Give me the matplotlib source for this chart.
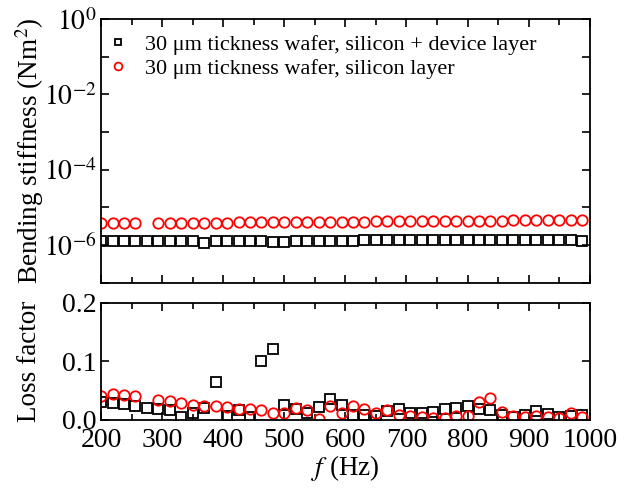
import numpy as np
import matplotlib
matplotlib.use('Agg')
import matplotlib.pyplot as plt

OUT = 'out.png'

freq = [200, 218.75, 237.5, 256.25, 275, 293.75, 312.5, 331.25, 350, 368.75,
        387.5, 406.25, 425, 443.75, 462.5, 481.25, 500, 518.75, 537.5, 556.25,
        575, 593.75, 612.5, 631.25, 650, 668.75, 687.5, 706.25, 725, 743.75,
        762.5, 781.25, 800, 818.75, 837.5, 856.25, 875, 893.75, 912.5, 931.25,
        950, 968.75, 987.5]

# bending stiffness (x 1e-6 Nm^2)
stiff_device = [1.30, 1.30, 1.30, 1.30, 1.30, 1.30, 1.30, 1.30, 1.30, 1.12,
                1.30, 1.30, 1.30, 1.30, 1.30, 1.18, 1.18, 1.30, 1.31, 1.31,
                1.32, 1.32, 1.32, 1.33, 1.33, 1.33, 1.34, 1.34, 1.35, 1.35,
                1.35, 1.35, 1.36, 1.36, 1.36, 1.36, 1.36, 1.36, 1.35, 1.35,
                1.35, 1.34, 1.25]
stiff_silicon = [3.85, 3.85, 3.85, 3.85, np.nan, 3.90, 3.90, 3.90, 3.90, 3.95,
                 3.95, 3.95, 4.00, 4.00, 4.00, 4.05, 4.05, 4.10, 4.10, 4.10,
                 4.15, 4.15, 4.20, 4.20, 4.25, 4.25, 4.30, 4.30, 4.35, 4.35,
                 4.40, 4.40, 4.45, 4.45, 4.50, 4.50, 4.55, 4.55, 4.60, 4.60,
                 4.65, 4.70, 4.70]

loss_device = [0.031, 0.029, 0.027, 0.023, 0.021, 0.018, 0.017, 0.005, 0.011, 0.020,
               0.064, 0.007, 0.016, 0.004, 0.100, 0.121, 0.025, 0.019, 0.011, 0.022,
               0.035, 0.026, 0.009, 0.008, 0.006, 0.015, 0.018, 0.012, 0.012, 0.013,
               0.019, 0.020, 0.024, 0.019, 0.017, 0.008, 0.005, 0.008, 0.015, 0.010,
               0.004, 0.006, 0.008]
loss_silicon = [0.041, 0.044, 0.043, 0.040, np.nan, 0.034, 0.032, 0.028, 0.026, 0.023,
                0.023, 0.022, 0.019, 0.019, 0.016, 0.011, 0.012, 0.021, 0.016, 0.002,
                0.024, 0.0125, 0.024, 0.019, 0.011, 0.016, 0.009, 0.006, 0.004, 0.003,
                0.003, 0.007, 0.007, 0.031, 0.038, 0.014, 0.007, 0.004, 0.006, 0.005,
                0.003, 0.011, 0.004]

label_device = '30 μm tickness wafer, silicon + device layer'
label_silicon = '30 μm tickness wafer, silicon layer'

plt.rcParams['font.family'] = 'Liberation Serif'
plt.rcParams['mathtext.fontset'] = 'stix'
plt.rcParams['axes.linewidth'] = 1.3

TICK_SIZE = 20
LABEL_SIZE = 19.5


def style_axis(ax):
  ax.tick_params(which='both', direction='in', top=True, right=True, width=1.2,
                 labelsize=TICK_SIZE, pad=3)
  ax.tick_params(which='major', length=6)
  ax.tick_params(which='minor', length=4)
  ax.tick_params(axis='x', pad=6)
  ax.set_xlim(200, 1000)
  ax.set_xticks(np.arange(200, 1001, 100))
  ax.set_xticks(np.arange(250, 1000, 100), minor=True)


def plot_stiffness(ax):
  ax.plot(freq, np.array(stiff_device) * 1e-6, ls='none', marker='s', ms=6.5,
          mfc='none', mec='black', mew=1.3, label=label_device)
  ax.plot(freq, np.array(stiff_silicon) * 1e-6, ls='none', marker='o', ms=7.5,
          mfc='none', mec='red', mew=1.3, label=label_silicon)
  ax.set_yscale('log')
  ax.set_ylim(1e-7, 1)
  ax.set_yticks([1e-6, 1e-4, 1e-2, 1])
  ax.set_yticklabels(['$10^{-6}$', '$10^{-4}$', '$10^{-2}$', '$10^{0}$'])
  ax.set_yticks([1e-7, 1e-5, 1e-3, 1e-1], minor=True)
  ax.yaxis.set_minor_formatter(matplotlib.ticker.NullFormatter())
  style_axis(ax)
  ax.tick_params(which='minor', axis='y', length=6)
  ax.tick_params(axis='x', labelbottom=False)
  ax.set_ylabel('Bending stiffness (Nm$^2$)', fontsize=LABEL_SIZE)
  ax.legend(loc='upper left', frameon=False, fontsize=16, markerscale=0.75,
            handlelength=1.2, handletextpad=0.6, borderaxespad=0.0,
            labelspacing=0.15, bbox_to_anchor=(-0.01, 0.975))


def plot_loss(ax):
  ax.plot(freq, loss_device, ls='none', marker='s', ms=6.5,
          mfc='none', mec='black', mew=1.3)
  ax.plot(freq, loss_silicon, ls='none', marker='o', ms=7.5,
          mfc='none', mec='red', mew=1.3)
  ax.set_ylim(0, 0.2)
  ax.set_yticks([0.0, 0.1, 0.2])
  ax.set_yticklabels(['0.0', '0.1', '0.2'])
  style_axis(ax)
  ax.set_ylabel('Loss factor', fontsize=LABEL_SIZE)
  ax.set_xlabel('$f$ (Hz)', fontsize=LABEL_SIZE, labelpad=0)


if __name__ == '__main__':
  fig = plt.figure(figsize=(6.28, 4.91), dpi=100)
  ax_top = fig.add_axes([0.161, 0.424, 0.778, 0.537])
  ax_bot = fig.add_axes([0.161, 0.145, 0.778, 0.238])
  plot_stiffness(ax_top)
  plot_loss(ax_bot)
  ax_top.yaxis.set_label_coords(-0.112, 0.5)
  ax_bot.yaxis.set_label_coords(-0.122, 0.5)
  plt.savefig(OUT, dpi=100)
